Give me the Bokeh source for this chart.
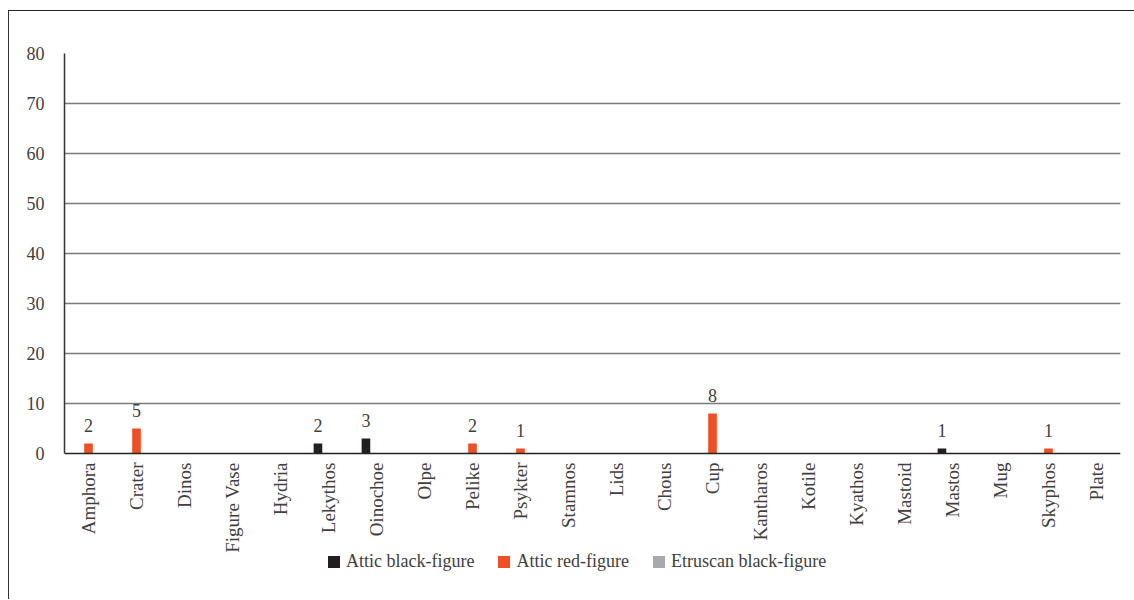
import math
from bokeh.plotting import figure
from bokeh.models import ColumnDataSource, FixedTicker, Legend, LegendItem, Span
from bokeh.transform import dodge
from bokeh.core.properties import value
from bokeh.embed import file_html
from bokeh.resources import INLINE

categories = ["Amphora", "Crater", "Dinos", "Figure Vase", "Hydria", "Lekythos", "Oinochoe",
              "Olpe", "Pelike", "Psykter", "Stamnos", "Lids", "Chous", "Cup", "Kantharos",
              "Kotile", "Kyathos", "Mastoid", "Mastos", "Mug", "Skyphos", "Plate"]
attic_black = [0, 0, 0, 0, 0, 2, 3, 0, 0, 0, 0, 0, 0, 0, 0, 0, 0, 0, 1, 0, 0, 0]
attic_red = [2, 5, 0, 0, 0, 0, 0, 0, 2, 1, 0, 0, 0, 8, 0, 0, 0, 0, 0, 0, 1, 0]
etruscan_black = [0] * 22
series_names = ["Attic black-figure", "Attic red-figure", "Etruscan black-figure"]
series_colors = ["#231f20", "#f04e23", "#a7a9ac"]
y_ticks = [0, 10, 20, 30, 40, 50, 60, 70, 80]

FONT = "Liberation Serif"
TXT = "#404040"

# frame: 80 units = 400 px; extra room below zero for category labels and legend
p = figure(x_range=categories, y_range=(-29.2, 80), frame_width=1056, frame_height=546,
           min_border_left=55, min_border_top=42, min_border_right=14, min_border_bottom=0,
           x_axis_location=None,
           output_backend="svg", toolbar_location=None,
           styles={"border-left": "1px solid #333", "border-top": "1.5px solid #222",
                   "margin-left": "8px", "margin-top": "10px"})
p.outline_line_color = None
p.background_fill_color = "white"

offsets = [-0.22, 0.0, 0.22]
items = []
for name, vals, col, off in zip(series_names, [attic_black, attic_red, etruscan_black],
                                series_colors, offsets):
    src = ColumnDataSource(dict(x=categories, top=vals))
    r = p.vbar(x=dodge("x", off, range=p.x_range), top="top", bottom=0, width=0.18,
               source=src, fill_color=col, line_color=None)
    items.append(LegendItem(label=name, renderers=[r]))
    nz = [i for i, v in enumerate(vals) if v > 0]
    lsrc = ColumnDataSource(dict(x=[categories[i] for i in nz], y=[vals[i] for i in nz],
                                 t=[str(vals[i]) for i in nz]))
    p.text(x=dodge("x", off, range=p.x_range), y="y", text="t", source=lsrc,
           text_align="center", text_baseline="bottom", y_offset=-12,
           text_font=value(FONT), text_font_size="18px", text_color=TXT)

# x axis line and category labels
p.add_layout(Span(location=0, dimension="width", line_color="#222222", line_width=1.5))
csrc = ColumnDataSource(dict(x=categories, y=[0] * len(categories)))
p.text(x="x", y="y", text="x", source=csrc, angle=math.pi / 2, text_align="right",
       text_baseline="middle", y_offset=9, text_font=value(FONT),
       text_font_size="19px", text_color=TXT)

p.yaxis.ticker = FixedTicker(ticks=y_ticks)
p.yaxis.bounds = (0, 80)
p.ygrid.ticker = FixedTicker(ticks=y_ticks[1:-1])
p.ygrid.grid_line_color = "#7a7a7a"
p.ygrid.grid_line_width = 1.3
p.xgrid.grid_line_color = None

p.yaxis.major_tick_line_color = None
p.yaxis.minor_tick_line_color = None
p.yaxis.axis_line_color = "#333333"
p.yaxis.axis_line_width = 1.5
p.yaxis.major_label_text_font = FONT
p.yaxis.major_label_text_color = TXT
p.yaxis.major_label_standoff = 14
p.yaxis.major_label_text_font_size = "18px"

legend = Legend(items=items, orientation="horizontal", location=(262, 27),
                label_text_font=FONT, label_text_font_size="18px", label_text_color=TXT,
                glyph_width=15, glyph_height=15, spacing=22, label_standoff=5,
                label_height=16, border_line_color=None, background_fill_alpha=0,
                padding=0, margin=0)
p.add_layout(legend, "center")

open("out.html", "w").write(file_html(p, INLINE))
